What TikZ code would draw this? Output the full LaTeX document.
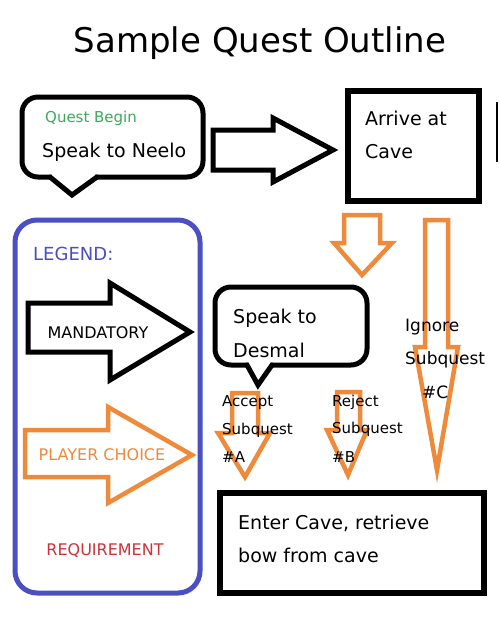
\documentclass[tikz,border=0pt]{standalone}
\usepackage{fontspec}
\setmainfont{DejaVu Sans}
\definecolor{qorange}{HTML}{EE8A3A}
\definecolor{qblue}{HTML}{4A4FC2}
\definecolor{qgreen}{HTML}{3DAA5A}
\definecolor{qred}{HTML}{D0303A}
\begin{document}
\begin{tikzpicture}[x=1pt,y=-1pt,
  blk/.style={draw=black, line width=5pt, line join=miter},
  org/.style={draw=qorange, line width=4.5pt, line join=miter},
  boxnode/.style={draw=black, line width=6pt, inner sep=0pt, anchor=north west},
  txt/.style={anchor=west, inner sep=0pt, font=\fontsize{19}{22}\selectfont},
  small/.style={anchor=west, inner sep=0pt, font=\fontsize{15}{18}\selectfont},
  leg/.style={inner sep=0pt, font=\fontsize{16}{19}\selectfont}]
\useasboundingbox (0,0) rectangle (500,624);
\fill[white] (0,0) rectangle (500,624);

% title
\node[inner sep=0pt, font=\fontsize{34}{40}\selectfont] (title) at (260,43) {Sample Quest Outline};

% bubble 1
\draw[blk, rounded corners=16] (22,97) rectangle (203,177);
\fill[white] (52,172) rectangle (95,182);
\draw[blk, line cap=round] (50,177) -- (72,195) -- (97,177);
\node[small, text=qgreen] (qb) at (45,118) {Quest Begin};
\node[txt] (neelo) at (42,152) {Speak to Neelo};

% black arrow
\draw[blk] (213,130) -- (273,130) -- (273,118) -- (333,150) -- (273,182) -- (273,170) -- (213,170) -- cycle;

% arrive box
\node[boxnode, minimum width=131, minimum height=110] (arrive) at (345,88) {};
\node[txt] (arrivet1) at (365,118) {Arrive at};
\node[txt] (arrivet2) at (365,152) {Cave};

% partial line at right edge
\draw[line width=1.5pt] (497,102) -- (497,162);

% orange arrows
\draw[org] (344,215) -- (380,215) -- (380,243) -- (392,243) -- (362,275) -- (334,243) -- (344,243) -- cycle;
\draw[org] (425,220) -- (448,220) -- (448,347) -- (458,347) -- (437,470) -- (415,347) -- (425,347) -- cycle;
\draw[org] (232,393) -- (258,393) -- (258,433) -- (270,433) -- (245,477) -- (218,433) -- (232,433) -- cycle;
\draw[org] (337,392) -- (360,392) -- (360,430) -- (367,430) -- (348,475) -- (327,430) -- (337,430) -- cycle;

% bubble 2
\draw[blk, rounded corners=16] (215,287) rectangle (367,365);
\fill[white] (249,360) rectangle (270,370);
\draw[blk, line cap=round] (247,365) -- (258,385) -- (272,365);
\node[txt] (desm1) at (233,318) {Speak to};
\node[txt] (desm2) at (233,350) {Desmal};

% choice labels
\node[small] (acc1) at (222,403) {Accept};
\node[small] (acc2) at (222,430) {Subquest};
\node[small] (acc3) at (222,457) {\#A};
\node[small] (rej1) at (332,402) {Reject};
\node[small] (rej2) at (332,429) {Subquest};
\node[small] (rej3) at (332,457) {\#B};
\node[txt, font=\fontsize{17}{20}\selectfont] (ign1) at (405,327) {Ignore};
\node[txt, font=\fontsize{17}{20}\selectfont] (ign2) at (405,360) {Subquest};
\node[txt, font=\fontsize{17}{20}\selectfont] (ign3) at (422,392) {\#C};

% enter cave box
\node[boxnode, minimum width=264, minimum height=100] (enter) at (217,490) {};
\node[txt] (entert1) at (238,523) {Enter Cave, retrieve};
\node[txt] (entert2) at (238,555) {bow from cave};

% legend
\draw[draw=qblue, line width=5pt, rounded corners=22] (15,220) rectangle (200,593);
\node[anchor=west, inner sep=0pt, text=qblue, font=\fontsize{18}{21}\selectfont] (legend) at (33,254) {LEGEND:};
\draw[blk] (28,303) -- (110,303) -- (110,283) -- (190,332) -- (110,380) -- (110,352) -- (28,352) -- cycle;
\node[leg] (mand) at (98,333) {MANDATORY};
\draw[org] (25,430) -- (108,430) -- (108,407) -- (192,455) -- (108,503) -- (108,477) -- (25,477) -- cycle;
\node[leg, text=qorange] (choice) at (102,455) {PLAYER CHOICE};
\node[leg, text=qred] (req) at (105,551) {REQUIREMENT};
\end{tikzpicture}
\end{document}
